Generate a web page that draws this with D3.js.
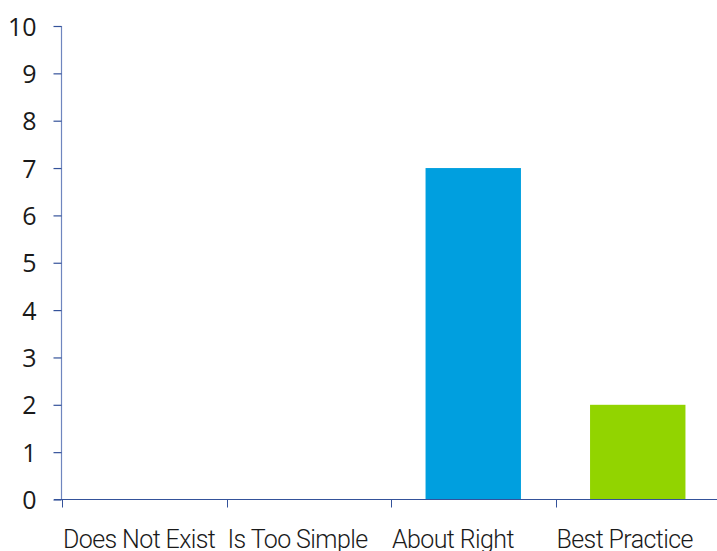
<!DOCTYPE html>
<html>
<head>
<meta charset="utf-8">
<script src="https://d3js.org/d3.v7.min.js"></script>
<style>
  html, body { margin: 0; padding: 0; background: #fff; }
  svg { display: block; }
  .y-axis .tick text { font-family: "Open Sans", "Noto Sans", sans-serif; font-weight: 400; fill: #1a1a1a; }
  .x-label { font-family: Roboto, "Open Sans", sans-serif; font-weight: 300; fill: #1a1a1a; letter-spacing: -0.6px; }
</style>
</head>
<body>
<svg id="chart" width="717" height="551"></svg>
<script>
// Survey responses per category
const categories = ["Does Not Exist", "Is Too Simple", "About Right", "Best Practice"];
const counts = [0, 0, 7, 2];
const barColors = ["#009fdf", "#009fdf", "#009fdf", "#92d400"];
const yTicks = [0, 1, 2, 3, 4, 5, 6, 7, 8, 9, 10];

const svg = d3.select("#chart");
const plotLeft = 62, plotRight = 720, plotTop = 26, plotBottom = 499.5;
const axisColor = "#34529a";

const x = d3.scaleBand().domain(categories).range([plotLeft, plotRight]).paddingInner(0.42).paddingOuter(0.21);
const band = d3.scaleBand().domain(categories).range([plotLeft, plotRight]);
const y = d3.scaleLinear().domain([0, 10]).range([plotBottom, plotTop]);

// bars
svg.append("g").selectAll("rect")
  .data(categories)
  .join("rect")
  .attr("x", d => x(d))
  .attr("width", x.bandwidth())
  .attr("y", (d, i) => y(counts[i]))
  .attr("height", (d, i) => y(0) - y(counts[i]))
  .attr("fill", (d, i) => barColors[i]);

// y axis
const yAxis = svg.append("g")
  .attr("class", "y-axis")
  .attr("transform", `translate(${plotLeft - 0.5},0)`)
  .call(d3.axisLeft(y).tickValues(yTicks).tickSize(8).tickPadding(17).tickFormat(d3.format("d")));
yAxis.selectAll("path, line").attr("stroke", axisColor).attr("stroke-width", 1.2);
yAxis.select(".domain").attr("d", `M0,${plotTop}V${plotBottom}`).attr("stroke", "#6f86bf");
yAxis.selectAll(".tick text").attr("font-size", 25).attr("dy", "0.36em");

// x axis with ticks on the category boundaries
const xg = svg.append("g").attr("transform", `translate(0,${plotBottom})`);
xg.append("line").attr("x1", plotLeft - 8).attr("x2", plotRight).attr("stroke", axisColor).attr("stroke-width", 1.2);
const boundaries = categories.map(c => band(c)).concat([plotRight]);
xg.selectAll("line.tk").data(boundaries).join("line")
  .attr("class", "tk")
  .attr("x1", d => Math.round(d) + 0.5).attr("x2", d => Math.round(d) + 0.5)
  .attr("y1", 0).attr("y2", 8)
  .attr("stroke", axisColor);
xg.selectAll("text").data(categories).join("text")
  .attr("class", "x-label")
  .attr("x", d => band(d) + 1)
  .attr("y", 48)
  .attr("font-size", 25)
  .text(d => d);
</script>
</body>
</html>
